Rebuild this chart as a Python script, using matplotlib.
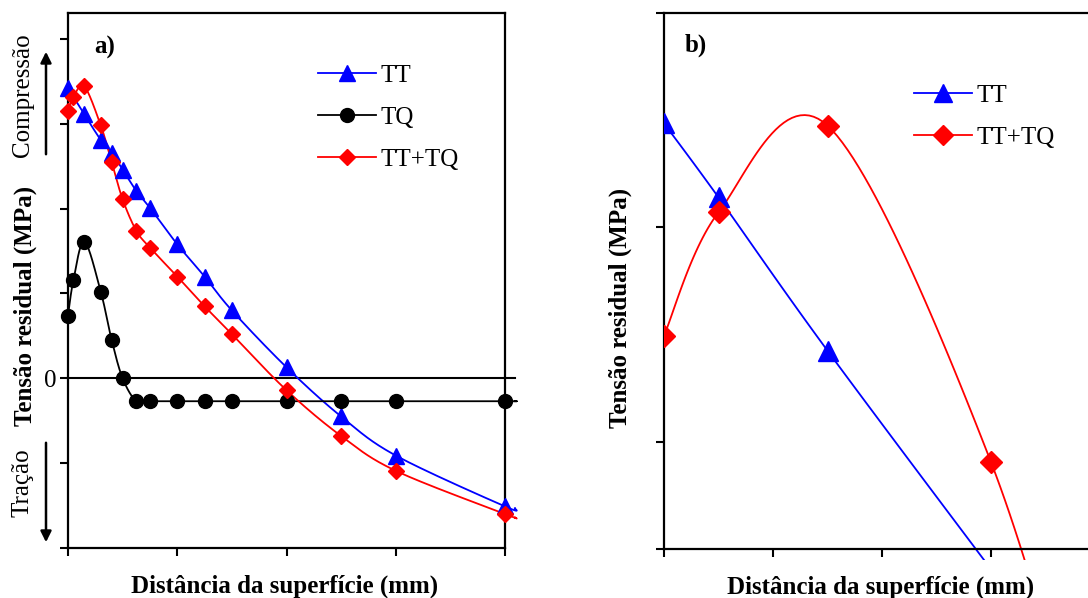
import numpy as np
import matplotlib
matplotlib.use("Agg")
import matplotlib.pyplot as plt
from matplotlib.lines import Line2D

plt.rcParams['font.family'] = ['Liberation Serif', 'DejaVu Serif']

# ---------------- data (panel a) ----------------
x_tt_a = [0, 0.15, 0.3, 0.4, 0.5, 0.625, 0.75, 1.0, 1.25, 1.5, 2.0, 2.5, 3.0, 4.0]
y_tt_a = [3.42, 3.11, 2.81, 2.66, 2.46, 2.21, 2.01, 1.58, 1.20, 0.80, 0.13, -0.45, -0.91, -1.51]

x_tq_a = [0, 0.05, 0.15, 0.3, 0.4, 0.5, 0.625, 0.75, 1.0, 1.25, 1.5, 2.0, 2.5, 3.0, 4.0]
y_tq_a = [0.74, 1.16, 1.61, 1.02, 0.45, 0.0, -0.27, -0.27, -0.27, -0.27, -0.27, -0.27, -0.27, -0.27, -0.27]

x_tttq_a = [0, 0.05, 0.15, 0.3, 0.4, 0.5, 0.625, 0.75, 1.0, 1.25, 1.5, 2.0, 2.5, 3.0, 4.0]
y_tttq_a = [3.15, 3.32, 3.44, 2.98, 2.55, 2.11, 1.74, 1.54, 1.20, 0.85, 0.52, -0.14, -0.68, -1.09, -1.60]

# line continuation past the last marker (panel a)
tail_x_a = 4.09
tail_tt_a = -1.53
tail_tq_a = -0.27
tail_tttq_a = -1.64

# ---------------- data (panel b) ----------------
x_tt_b = [0, 0.5, 1.5, 3.2]
y_tt_b = [3.97, 3.28, 1.85, -0.46]
x_tttq_b = [0, 0.5, 1.5, 3.0, 4.0]
y_tttq_b = [1.99, 3.14, 3.95, 0.81, -2.6]

labels_a = ["TT", "TQ", "TT+TQ"]
labels_b = ["TT", "TT+TQ"]


def smooth(x, y, n=30):
    P = np.column_stack([np.asarray(x, float), np.asarray(y, float)])
    pts = np.vstack([P[0], P, P[-1]])
    out = []
    t = np.linspace(0, 1, n)[:, None]
    for i in range(1, len(pts) - 2):
        p0, p1, p2, p3 = pts[i - 1], pts[i], pts[i + 1], pts[i + 2]
        c1 = p1 + (p2 - p0) / 6.0
        c2 = p2 - (p3 - p1) / 6.0
        seg = (1 - t) ** 3 * p1 + 3 * (1 - t) ** 2 * t * c1 + 3 * (1 - t) * t ** 2 * c2 + t ** 3 * p2
        out.append(seg if i == 1 else seg[1:])
    s = np.vstack(out)
    return s[:, 0], s[:, 1]


W, H = 1088, 598
fig = plt.figure(figsize=(W / 100, H / 100), dpi=100)
FS = 18
BLUE, RED, BLACK = '#0000FF', '#FF0000', '#000000'
LW = 1.3
SPW = 1.6

# ---------------- panel a ----------------
axa = fig.add_axes([68 / W, (H - 548) / H, 437 / W, 535 / H])
axa.set_xlim(0, 4)
axa.set_ylim(-2, 4.306)
axa.axhline(0, xmin=0, xmax=tail_x_a / 4, color=BLACK, lw=1.5, clip_on=False, zorder=1)

series_a = [
    (x_tt_a, y_tt_a, tail_tt_a, BLUE, '^', 12),
    (x_tq_a, y_tq_a, tail_tq_a, BLACK, 'o', 10),
    (x_tttq_a, y_tttq_a, tail_tttq_a, RED, 'D', 8.5),
]
handles_a = []
for (xs, ys, tail, col, mk, ms), lab in zip(series_a, labels_a):
    sx, sy = smooth(list(xs) + [tail_x_a], list(ys) + [tail])
    axa.plot(sx, sy, color=col, lw=LW, clip_on=False, zorder=2)
    axa.plot(xs, ys, linestyle='none', marker=mk, ms=ms, color=col, mec=col, clip_on=False, zorder=3)
    handles_a.append(Line2D([], [], color=col, lw=LW, marker=mk, ms=ms, mec=col))

axa.set_xticks([0, 1, 2, 3, 4])
axa.set_xticklabels([])
axa.set_yticks([-2, -1, 0, 1, 2, 3, 4])
axa.set_yticklabels(['', '', '0', '', '', '', ''], fontsize=FS)
axa.tick_params(direction='out', length=6, width=1.5, pad=2)
for sp in axa.spines.values():
    sp.set_linewidth(SPW)

axa.legend(handles_a, labels_a, loc='upper left', bbox_to_anchor=(318 / W, 1 - 64 / H),
           bbox_transform=fig.transFigure, frameon=False, fontsize=FS, handlelength=2.3,
           handletextpad=0.2, labelspacing=0.78, borderpad=0, borderaxespad=0)

fig.text(105 / W, 1 - 47 / H, 'a)', fontsize=FS, fontweight='bold', ha='center', va='center')

# y-axis annotations panel a
fig.text(25 / W, 1 - 306 / H, 'Tensão residual (MPa)', rotation=90, fontsize=FS,
         fontweight='bold', ha='center', va='center')
fig.text(23 / W, 1 - 95 / H, 'Compressão', rotation=90, fontsize=FS, ha='center', va='center')
fig.text(23 / W, 1 - 483 / H, 'Tração', rotation=90, fontsize=FS, ha='center', va='center')
fig.add_artist(matplotlib.patches.FancyArrowPatch((46 / W, 1 - 157 / H), (46 / W, 1 - 49 / H),
               transform=fig.transFigure, arrowstyle='-|>', mutation_scale=16, lw=1.8, color=BLACK))
fig.add_artist(matplotlib.patches.FancyArrowPatch((46 / W, 1 - 440 / H), (46 / W, 1 - 545 / H),
               transform=fig.transFigure, arrowstyle='-|>', mutation_scale=16, lw=1.8, color=BLACK))
fig.text(285 / W, 1 - 586 / H, 'Distância da superfície (mm)', fontsize=FS, fontweight='bold',
         ha='center', va='center')

# ---------------- panel b ----------------
axb = fig.add_axes([664 / W, (H - 560) / H, 436 / W, 547 / H])
axb.set_xlim(0, 4)
axb.set_ylim(-0.103, 5.0)
axb.spines['bottom'].set_position(('data', 0))
axb.spines['left'].set_bounds(0, 5)
for sp in axb.spines.values():
    sp.set_linewidth(SPW)

series_b = [
    (x_tt_b, y_tt_b, BLUE, '^', 15),
    (x_tttq_b, y_tttq_b, RED, 'D', 11.5),
]
handles_b = []
for (xs, ys, col, mk, ms), lab in zip(series_b, labels_b):
    sx, sy = smooth(xs, ys)
    axb.plot(sx, sy, color=col, lw=LW, zorder=2)
    axb.plot(xs, ys, linestyle='none', marker=mk, ms=ms, color=col, mec=col, clip_on=True, zorder=3)
    handles_b.append(Line2D([], [], color=col, lw=LW, marker=mk, ms=ms * 0.85, mec=col))

axb.set_xticks([0, 1, 2, 3])
axb.set_xticklabels([])
axb.set_yticks([0, 1, 3, 5])
axb.set_yticklabels([])
axb.tick_params(direction='out', length=6, width=1.5)

axb.legend(handles_b, labels_b, loc='upper left', bbox_to_anchor=(914 / W, 1 - 84 / H),
           bbox_transform=fig.transFigure, frameon=False, fontsize=FS, handlelength=2.3,
           handletextpad=0.2, labelspacing=0.78, borderpad=0, borderaxespad=0)

fig.text(696 / W, 1 - 45 / H, 'b)', fontsize=FS, fontweight='bold', ha='center', va='center')
fig.text(620 / W, 1 - 308 / H, 'Tensão residual (MPa)', rotation=90, fontsize=FS,
         fontweight='bold', ha='center', va='center')
fig.text(881 / W, 1 - 587 / H, 'Distância da superfície (mm)', fontsize=FS, fontweight='bold',
         ha='center', va='center')

fig.savefig('out.png', dpi=100)
